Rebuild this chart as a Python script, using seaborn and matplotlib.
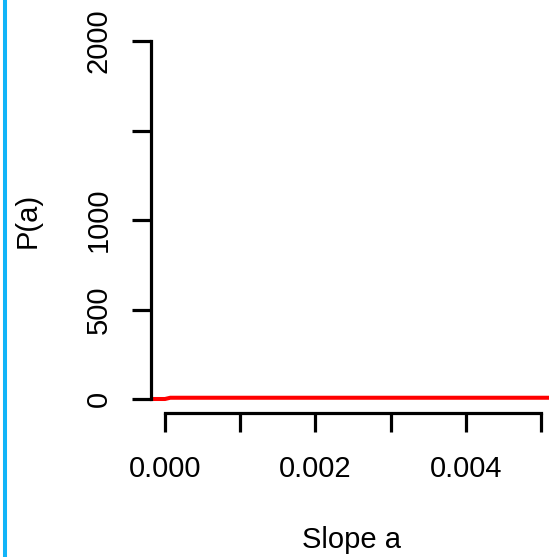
import numpy as np
import pandas as pd
import matplotlib
matplotlib.use("Agg")
import matplotlib.pyplot as plt
from matplotlib.lines import Line2D
import seaborn as sns

# Prior density of the slope parameter
slope = [-0.001, 0.0, 0.00007, 0.01]
density = [0.0, 0.0, 7.0, 7.0]

x_ticks = [0.000, 0.001, 0.002, 0.003, 0.004, 0.005]
x_labels = ["0.000", "", "0.002", "", "0.004", ""]
y_ticks = [0, 500, 1000, 1500, 2000]
y_labels = ["0", "500", "1000", "", "2000"]

sns.set_style("ticks")
plt.rcParams["font.family"] = ["Liberation Sans", "DejaVu Sans"]

W, H = 549, 557
fig = plt.figure(figsize=(W / 100, H / 100), dpi=100)

# plot region in pixels
left_px, right_px, bottom_px, top_px = 151.5, 549, 413, 36
ax = fig.add_axes([left_px / W, (H - bottom_px) / H,
                   (right_px - left_px) / W, (bottom_px - top_px) / H])

df = pd.DataFrame({"a": slope, "P": density})
sns.lineplot(data=df, x="a", y="P", ax=ax, color="#ff0000", linewidth=2.9,
             estimator=None, sort=False)

px_per_x = (541 - 165) / 0.005
px_per_y = (399 - 41) / 2000
ax.set_xlim(0 - (165 - left_px) / px_per_x, 0.005 + (right_px - 541) / px_per_x)
ax.set_ylim(-(bottom_px - 399) / px_per_y, (399 - top_px) / px_per_y)

for side in ["top", "right"]:
    ax.spines[side].set_visible(False)
for side in ["left", "bottom"]:
    ax.spines[side].set_linewidth(2.3)
    ax.spines[side].set_color("black")
ax.spines["left"].set_bounds(0, 2000)
ax.spines["bottom"].set_bounds(0, 0.005)

ax.set_xticks(x_ticks)
ax.set_xticklabels(x_labels)
ax.set_yticks(y_ticks)
ax.set_yticklabels(y_labels, rotation=90, va="center", ha="center")

ax.tick_params(axis="both", direction="out", length=13.7, width=2.3,
               color="black", labelsize=21, labelcolor="black",
               bottom=True, left=True, top=False, right=False)
ax.tick_params(axis="x", pad=16.5)
ax.tick_params(axis="y", pad=24.5)

ax.set_xlabel("Slope a", fontsize=21, va="center", color="black")
ax.set_ylabel("P(a)", fontsize=21, va="center", color="black")
ax.xaxis.set_label_coords((352 - left_px) / (right_px - left_px),
                          (bottom_px - 540) / (bottom_px - top_px))
ax.yaxis.set_label_coords((28 - left_px) / (right_px - left_px),
                          (bottom_px - 220) / (bottom_px - top_px))

# vertical rule along the left edge
fig.add_artist(Line2D([5 / W, 5 / W], [0, 1], transform=fig.transFigure,
                      color="#12b4f8", linewidth=2.9))

fig.savefig("out.png", dpi=100)
